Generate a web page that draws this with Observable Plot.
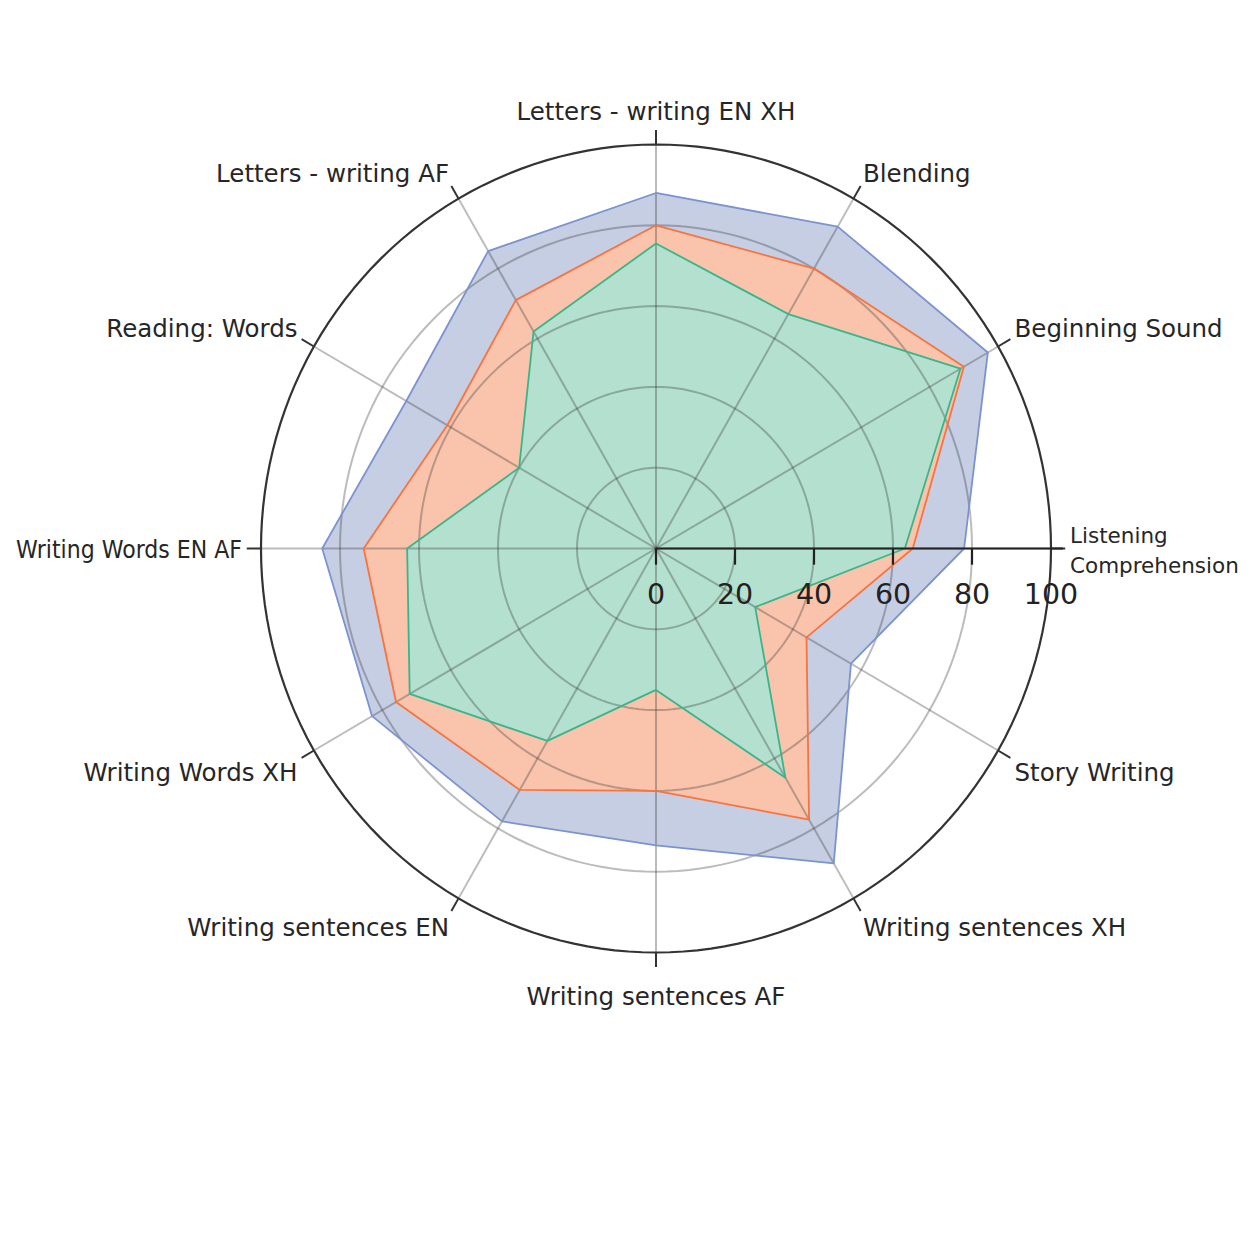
<!DOCTYPE html>
<html>
<head>
<meta charset="utf-8">
<script src="https://cdn.jsdelivr.net/npm/d3@7"></script>
<script src="https://cdn.jsdelivr.net/npm/@observablehq/plot@0.6"></script>
<style>
  html, body { margin: 0; padding: 0; background: #ffffff; }
  #chart svg { display: block; }
</style>
</head>
<body>
<div id="chart"></div>
<script>
// Categories, counter-clockwise starting at 0° (east)
const categories = [
  "Listening\nComprehension",
  "Beginning Sound",
  "Blending",
  "Letters - writing EN XH",
  "Letters - writing AF",
  "Reading: Words",
  "Writing Words EN AF",
  "Writing Words XH",
  "Writing sentences EN",
  "Writing sentences AF",
  "Writing sentences XH",
  "Story Writing"
];

// Series values (0–100), in category order
const seriesBlue   = [78, 97, 92, 88, 85, 73, 84.5, 83, 78, 73.5, 90, 57];
const seriesOrange = [65, 90, 80, 80, 71, 61, 74, 76, 69, 60, 77.5, 44];
const seriesGreen  = [63, 89, 67, 75.5, 62, 40, 63, 72, 55, 35, 65.5, 29];

const radialTicks = [0, 20, 40, 60, 80, 100];
const gridLevels  = [20, 40, 60, 80];
const rangeMax    = 100;

// ---- helpers (polar -> cartesian in data units) ----
const N = categories.length;
const angleOf = i => (i * 360 / N) * Math.PI / 180;
const toPoints = (values, name) => values.map((v, i) => ({
  series: name, category: categories[i], value: v,
  x: v * Math.cos(angleOf(i)), y: v * Math.sin(angleOf(i))
}));
const circle = r => d3.range(0, 361, 2).map(a => ({
  r, x: r * Math.cos(a * Math.PI / 180), y: r * Math.sin(a * Math.PI / 180)
}));

const blue = toPoints(seriesBlue, "blue");
const orange = toPoints(seriesOrange, "orange");
const green = toPoints(seriesGreen, "green");

const gridCircles = gridLevels.flatMap(circle);
const outerCircle = circle(rangeMax);
const spokes = categories.map((c, i) => ({
  category: c,
  x2: rangeMax * Math.cos(angleOf(i)), y2: rangeMax * Math.sin(angleOf(i))
}));
const tickOut = 103.6;
const angTicks = categories.map((c, i) => ({
  x1: rangeMax * Math.cos(angleOf(i)), y1: rangeMax * Math.sin(angleOf(i)),
  x2: tickOut * Math.cos(angleOf(i)), y2: tickOut * Math.sin(angleOf(i))
}));

const gridStroke = "#3c3c3c";
const gridOpacity = 0.34;

// category label marks
const labelMarks = categories.map((c, i) => {
  const a = angleOf(i);
  const cs = Math.cos(a), sn = Math.sin(a);
  const textAnchor = cs > 0.1 ? "start" : cs < -0.1 ? "end" : "middle";
  const lineAnchor = sn > 0.1 ? "bottom" : sn < -0.1 ? "top" : "middle";
  const off = Math.abs(sn) > 0.99 ? (sn > 0 ? 25 : 31) : 19;
  const multi = c.includes("\n");
  const fs = multi ? 21.5 : 24.5;
  return Plot.text([{label: c, x: rangeMax * cs, y: rangeMax * sn}], {
    x: "x", y: "y", text: "label",
    textAnchor, lineAnchor,
    dx: off * cs, dy: -off * sn,
    fontSize: fs, lineHeight: 30 / fs,
    fill: "#262626"
  });
});

const chart = Plot.plot({
  width: 1254,
  height: 1254,
  margin: 0,
  x: {domain: [-100, 100], range: [655.5 - 395, 655.5 + 395], axis: null},
  y: {domain: [-100, 100], range: [548 + 404, 548 - 404], axis: null},
  style: {fontFamily: "'DejaVu Sans', sans-serif", background: "#ffffff"},
  marks: [
    // filled polygons (opaque light tints)
    Plot.line(blue,   {x: "x", y: "y", curve: "linear-closed", fill: "#c6cee4", stroke: "none"}),
    Plot.line(orange, {x: "x", y: "y", curve: "linear-closed", fill: "#fac4ac", stroke: "none"}),
    Plot.line(green,  {x: "x", y: "y", curve: "linear-closed", fill: "#b4e0cf", stroke: "none"}),
    // grid (semi-transparent so it darkens over the fills)
    Plot.line(gridCircles, {x: "x", y: "y", z: "r", stroke: gridStroke, strokeOpacity: gridOpacity, strokeWidth: 2}),
    Plot.link(spokes, {x1: 0, y1: 0, x2: "x2", y2: "y2", stroke: gridStroke, strokeOpacity: gridOpacity, strokeWidth: 2}),
    // series outlines
    Plot.line(blue,   {x: "x", y: "y", curve: "linear-closed", stroke: "#7b93cf", strokeWidth: 1.8}),
    Plot.line(orange, {x: "x", y: "y", curve: "linear-closed", stroke: "#f7743f", strokeWidth: 1.8}),
    Plot.line(green,  {x: "x", y: "y", curve: "linear-closed", stroke: "#3ab58b", strokeWidth: 1.8}),
    // outer circle and angular ticks
    Plot.line(outerCircle, {x: "x", y: "y", stroke: "#333333", strokeWidth: 2.2}),
    Plot.link(angTicks, {x1: "x1", y1: "y1", x2: "x2", y2: "y2", stroke: "#333333", strokeWidth: 2}),
    // radial axis
    Plot.link([{x1: 0, x2: 103}], {x1: "x1", x2: "x2", y1: 0, y2: 0, stroke: "#222222", strokeWidth: 2.2}),
    Plot.link(radialTicks.filter(t => t < 100), {x1: d => d, x2: d => d, y1: 0, y2: -4, stroke: "#222222", strokeWidth: 2.2}),
    Plot.text(radialTicks, {x: d => d, y: 0, text: d => String(d), dy: 46, fontSize: 28.5, fill: "#222222", lineAnchor: "middle"}),
    ...labelMarks
  ]
});

document.getElementById("chart").appendChild(chart);

// squeeze labels that would come too close to the page edges (as in the reference)
const minX = 16, maxX = 1240;
chart.querySelectorAll("text").forEach(t => {
  const lines = t.querySelectorAll("tspan").length ? [...t.querySelectorAll("tspan")] : [t];
  lines.forEach(el => {
    const r = el.getBoundingClientRect();
    let w = r.width;
    if (r.left < minX) w = r.right - minX;
    if (r.right > maxX) w = maxX - r.left;
    if (w < r.width) {
      el.setAttribute("textLength", w.toFixed(1));
      el.setAttribute("lengthAdjust", "spacingAndGlyphs");
    }
  });
});
</script>
</body>
</html>
